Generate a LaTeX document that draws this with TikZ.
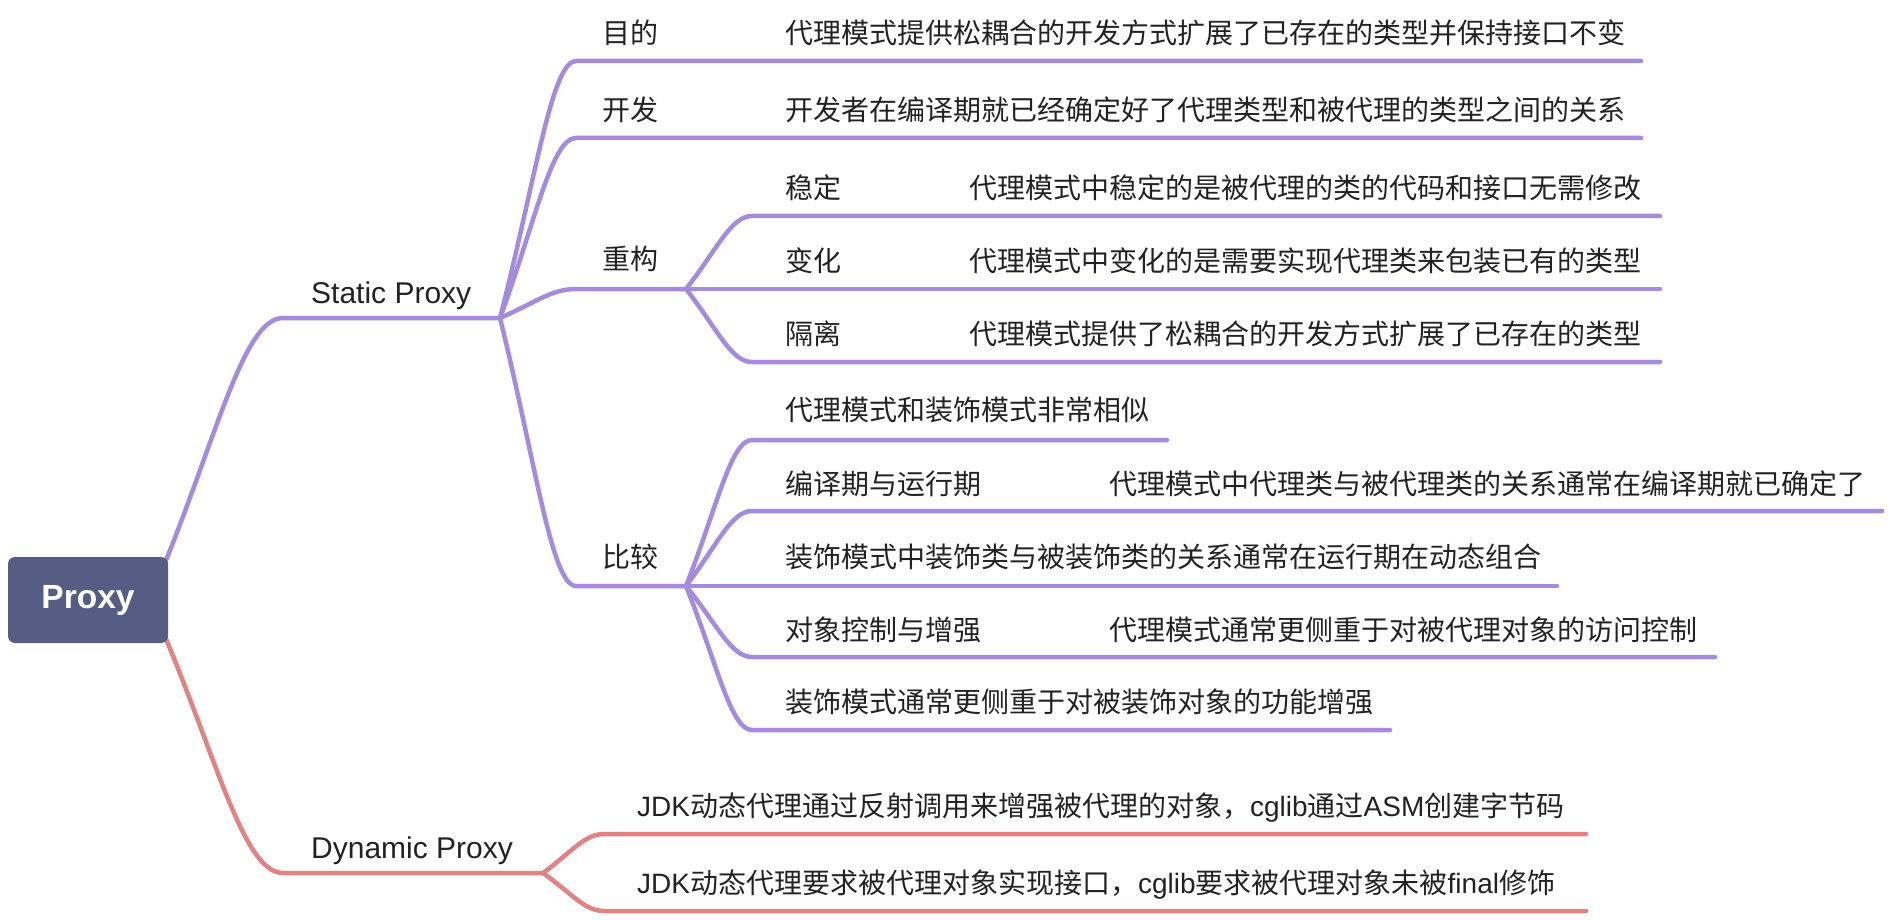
\documentclass[tikz,border=0pt]{standalone}
\usepackage{fontspec}
\newfontfamily\cjk{Noto Sans CJK SC}
\newfontfamily\lat{Liberation Sans}
\usetikzlibrary{calc}
\definecolor{purp}{HTML}{A48BDF}
\definecolor{redl}{HTML}{E38282}
\definecolor{boxc}{HTML}{565D84}
\definecolor{txt}{HTML}{222222}
\begin{document}
\begin{tikzpicture}[x=1pt,y=-1pt,
  br/.style={line width=4.5pt, line cap=round, line join=round},
  pl/.style={br, draw=purp},
  rl/.style={br, draw=redl},
  curve/.style={to path={let \p1=(\tikztostart), \p2=(\tikztotarget) in
     .. controls ({\x1+0.47*((\x2)-(\x1))},{\y1+0.54*((\y2)-(\y1))})
     and ({\x1+0.68*((\x2)-(\x1))},{\y2}) .. (\tikztotarget)}},
  lbl/.style={anchor=west, inner sep=0pt, font=\cjk\fontsize{28}{34}\selectfont, text=txt},
  main/.style={anchor=base west, inner sep=0pt, font=\lat\fontsize{30}{36}\selectfont, text=txt},
]
\useasboundingbox (0,0) rectangle (1888,920);
% coordinates of lines
\coordinate (r1) at (158,580);
\coordinate (r2) at (158,620);
\coordinate (sp0) at (283,318); \coordinate (sp) at (500,318);
\coordinate (dp0) at (283,873); \coordinate (dp) at (543,873);
\coordinate (a0) at (576,61);  \coordinate (a1) at (1641,61);
\coordinate (b0) at (576,138); \coordinate (b1) at (1641,138);
\coordinate (c0) at (576,289); \coordinate (c1) at (686,289);
\coordinate (d0) at (576,586); \coordinate (d1) at (686,586);
\coordinate (c10) at (752,216); \coordinate (c11) at (1660,216);
\coordinate (c20) at (752,289); \coordinate (c21) at (1660,289);
\coordinate (c30) at (752,362); \coordinate (c31) at (1660,362);
\coordinate (d10) at (752,440); \coordinate (d11) at (1167,440);
\coordinate (d20) at (752,511); \coordinate (d21) at (1882,511);
\coordinate (d30) at (752,586); \coordinate (d31) at (1557,586);
\coordinate (d40) at (752,657); \coordinate (d41) at (1715,657);
\coordinate (d50) at (752,730); \coordinate (d51) at (1390,730);
\coordinate (e10) at (604,834); \coordinate (e11) at (1586,834);
\coordinate (e20) at (604,911); \coordinate (e21) at (1586,911);
% connectors
\draw[pl] (r1) to[curve] (sp0) -- (sp);
\draw[pl] (sp) to[curve] (a0) -- (a1);
\draw[pl] (sp) to[curve] (b0) -- (b1);
\draw[pl] (sp) to[curve] (c0) -- (c1);
\draw[pl] (sp) to[curve] (d0) -- (d1);
\draw[pl] (c1) to[curve] (c10) -- (c11);
\draw[pl] (c1) to[curve] (c20) -- (c21);
\draw[pl] (c1) to[curve] (c30) -- (c31);
\draw[pl] (d1) to[curve] (d10) -- (d11);
\draw[pl] (d1) to[curve] (d20) -- (d21);
\draw[pl] (d1) to[curve] (d30) -- (d31);
\draw[pl] (d1) to[curve] (d40) -- (d41);
\draw[pl] (d1) to[curve] (d50) -- (d51);
\draw[rl] (r2) to[curve] (dp0) -- (dp);
\draw[rl] (dp) to[curve] (e10) -- (e11);
\draw[rl] (dp) to[curve] (e20) -- (e21);
% root
\node[fill=boxc, rounded corners=7pt, minimum width=160pt, minimum height=86pt, inner sep=0pt,
      text=white, font=\lat\bfseries\fontsize{33.5}{40}\selectfont] (root) at (88,600) {Proxy};
% labels
\node[main] (spl) at (311,303) {Static Proxy};
\node[main] (dpl) at (311,858) {Dynamic Proxy};
\node[lbl] (al) at (602,33) {目的};
\node[lbl] (ad) at (785,33) {代理模式提供松耦合的开发方式扩展了已存在的类型并保持接口不变};
\node[lbl] (bl) at (602,110) {开发};
\node[lbl] (bd) at (785,110) {开发者在编译期就已经确定好了代理类型和被代理的类型之间的关系};
\node[lbl] (cl) at (602,259) {重构};
\node[lbl] (dl) at (602,557) {比较};
\node[lbl] (c1l) at (785,188) {稳定};
\node[lbl] (c1d) at (969,188) {代理模式中稳定的是被代理的类的代码和接口无需修改};
\node[lbl] (c2l) at (785,261) {变化};
\node[lbl] (c2d) at (969,261) {代理模式中变化的是需要实现代理类来包装已有的类型};
\node[lbl] (c3l) at (785,334) {隔离};
\node[lbl] (c3d) at (969,334) {代理模式提供了松耦合的开发方式扩展了已存在的类型};
\node[lbl] (d1l) at (785,410) {代理模式和装饰模式非常相似};
\node[lbl] (d2l) at (785,484) {编译期与运行期};
\node[lbl] (d2d) at (1109,484) {代理模式中代理类与被代理类的关系通常在编译期就已确定了};
\node[lbl] (d3l) at (785,557) {装饰模式中装饰类与被装饰类的关系通常在运行期在动态组合};
\node[lbl] (d4l) at (785,630) {对象控制与增强};
\node[lbl] (d4d) at (1109,630) {代理模式通常更侧重于对被代理对象的访问控制};
\node[lbl] (d5l) at (785,702) {装饰模式通常更侧重于对被装饰对象的功能增强};
\node[lbl] (e1l) at (637,808) {{\lat JDK}动态代理通过反射调用来增强被代理的对象，{\lat cglib}通过{\lat ASM}创建字节码};
\node[lbl] (e2l) at (637,885) {{\lat JDK}动态代理要求被代理对象实现接口，{\lat cglib}要求被代理对象未被{\lat final}修饰};
\end{tikzpicture}
\end{document}
